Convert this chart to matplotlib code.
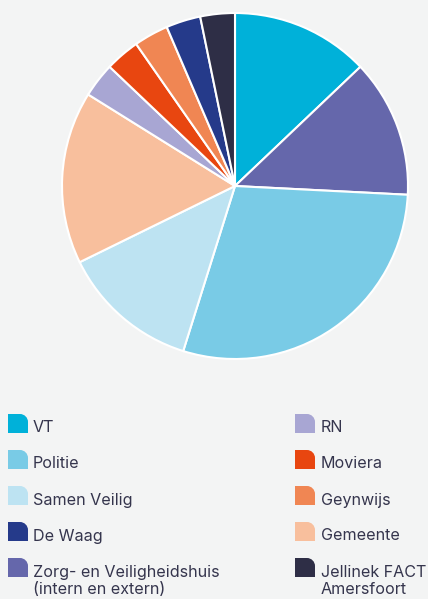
import matplotlib
matplotlib.use("Agg")
import matplotlib.pyplot as plt
from matplotlib.path import Path
from matplotlib.patches import PathPatch

# data (order clockwise from 12 o'clock)
labels = ["VT", "Zorg- en Veiligheidshuis\n(intern en extern)", "Politie", "Samen Veilig",
          "Gemeente", "RN", "Moviera", "Geynwijs", "De Waag", "Jellinek FACT\nAmersfoort"]
counts = [4, 4, 9, 4, 5, 1, 1, 1, 1, 1]
colors = ["#00b1d9", "#6567ab", "#79cbe6", "#bde3f2", "#f8bf9d",
          "#a8a6d3", "#e84610", "#f08653", "#253a8a", "#2e2e46"]

# legend layout: two columns as in the source
left_col = ["VT", "Politie", "Samen Veilig", "De Waag", "Zorg- en Veiligheidshuis\n(intern en extern)"]
right_col = ["RN", "Moviera", "Geynwijs", "Gemeente", "Jellinek FACT\nAmersfoort"]

W, H = 428, 599
bg = "#f3f4f4"
txt = "#35354d"

fig = plt.figure(figsize=(W / 100, H / 100), dpi=100, facecolor=bg)

cx, cy, r = 235, 186, 173
ax = fig.add_axes([(cx - r) / W, (H - cy - r) / H, 2 * r / W, 2 * r / H])
ax.pie(counts, colors=colors, startangle=90, counterclock=False,
       wedgeprops=dict(edgecolor="white", linewidth=1.5))
ax.set_xlim(-1, 1)
ax.set_ylim(-1, 1)
ax.set_aspect("equal")

# overlay in pixel coords for the legend
lax = fig.add_axes([0, 0, 1, 1])
lax.set_xlim(0, W)
lax.set_ylim(H, 0)
lax.axis("off")
lax.patch.set_alpha(0)


def marker(x0, y0, w, h, rad, color):
    # square with rounded top-right corner (y axis points down)
    x1, y1 = x0 + w, y0 + h
    k = 0.55 * rad
    verts = [(x0, y1), (x1, y1), (x1, y0 + rad),
             (x1, y0 + rad - k), (x1 - rad + k, y0), (x1 - rad, y0),
             (x0, y0), (x0, y1)]
    codes = [Path.MOVETO, Path.LINETO, Path.LINETO,
             Path.CURVE4, Path.CURVE4, Path.CURVE4,
             Path.LINETO, Path.CLOSEPOLY]
    lax.add_patch(PathPatch(Path(verts, codes), facecolor=color, edgecolor="none"))


for col, x_m, x_t in [(left_col, 8, 33), (right_col, 295, 321)]:
    for i, lab in enumerate(col):
        y = 414 + 36 * i
        marker(x_m, y, 20, 19, 8, colors[labels.index(lab)])
        nl = lab.count("\n")
        lax.text(x_t, y + 14 + 9 * nl, lab, fontsize=11.6, color=txt, family="Inter",
                 va="center", ha="left", linespacing=1.15)

fig.savefig("out.png", dpi=100, facecolor=bg)
